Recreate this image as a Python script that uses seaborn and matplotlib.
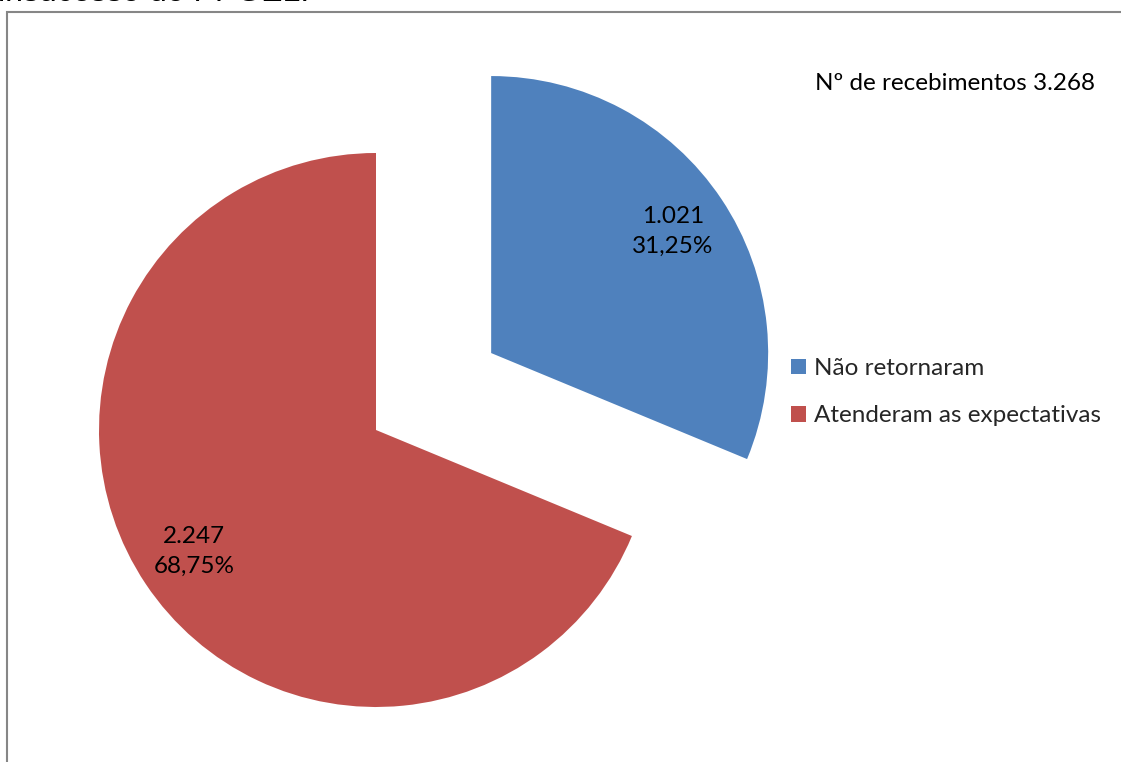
import matplotlib
matplotlib.use("Agg")
import matplotlib.pyplot as plt
from matplotlib.patches import Rectangle
import seaborn as sns

# Survey return data
categories = ["Não retornaram", "Atenderam as expectativas"]
counts = [1021, 2247]
shares = [31.25, 68.75]
total_received = 3268
colors = ["#4F81BD", "#C0504D"]

sns.set_theme(style="white")
plt.rcParams["font.family"] = ["Lato", "DejaVu Sans"]

W, H, DPI = 1121, 762, 100
FS = 17.5
fig = plt.figure(figsize=(W / DPI, H / DPI), dpi=DPI)
fig.patch.set_facecolor("white")

# pie axes spanning the figure, unit radius = 277 px, centre at (376, 430) px from top-left
R = 277.0
cx, cy = 376.0, 430.0
ax = fig.add_axes([0, 0, 1, 1])


def fmt_num(n):
    return f"{n:,}".replace(",", ".")


def fmt_pct(p):
    return f"{p:.2f}".replace(".", ",") + "%"


labels_txt = [f"{fmt_num(c)}\n{fmt_pct(s)}" for c, s in zip(counts, shares)]

wedges, texts = ax.pie(
    shares,
    colors=colors,
    startangle=90,
    counterclock=False,
    explode=[0.5, 0.0],
    radius=1.0,
    labels=labels_txt,
    labeldistance=0.79,
    wedgeprops=dict(linewidth=0),
    textprops=dict(fontsize=FS, color="black", linespacing=1.5),
)
for t in texts:
    t.set_horizontalalignment("center")
    t.set_verticalalignment("center")

ax.set_xlim(-cx / R, (W - cx) / R)
ax.set_ylim(-(H - cy) / R, cy / R)
ax.set_aspect("equal")
ax.axis("off")

# chart frame
fig.patches.append(Rectangle((7 / W, -0.1), 1.2, (H - 12) / H + 0.1,
                             transform=fig.transFigure, fill=False,
                             edgecolor="#868686", linewidth=1.5))

# legend
leg = fig.legend(
    handles=wedges, labels=categories,
    loc="upper left", bbox_to_anchor=(791 / W, 1 - 358 / H),
    frameon=False, fontsize=FS, handlelength=0.62, handleheight=0.62,
    handletextpad=0.33, labelspacing=1.08, borderaxespad=0, borderpad=0,
)

fig.text(815 / W, 1 - 83 / H,
         f"Nº de recebimentos {fmt_num(total_received)}",
         fontsize=FS, ha="left", va="center", color="black")

# caption line above the chart frame
fig.text(-2 / W, 1 - 1 / H, "insucesso do PPGEL.",
         fontsize=23, family="Liberation Sans", ha="left", va="baseline",
         color="black")

fig.savefig("out.png", dpi=DPI, facecolor="white")
